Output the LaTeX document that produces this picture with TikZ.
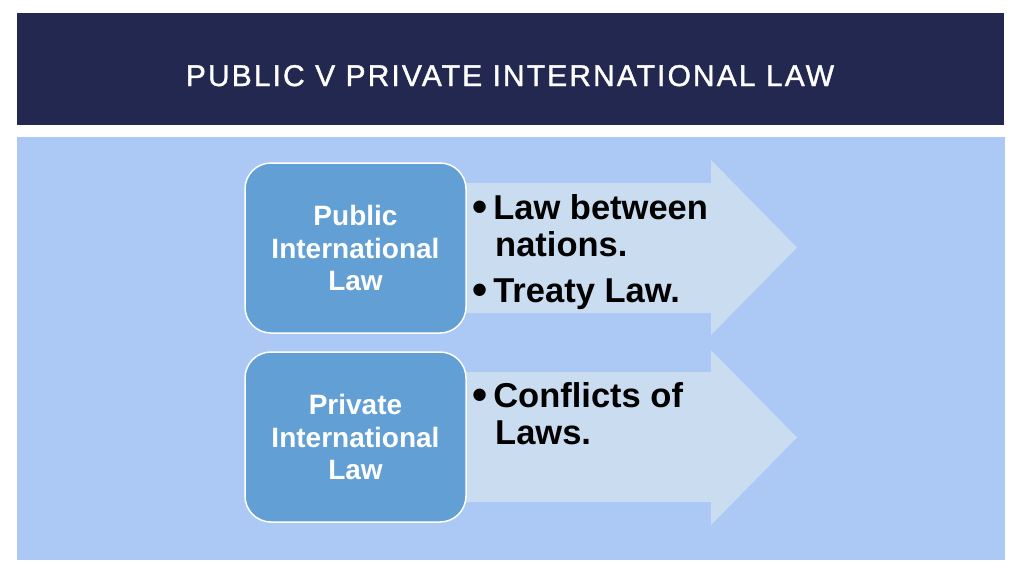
\documentclass[tikz,border=0pt]{standalone}
\usepackage{fontspec}
\setmainfont{Liberation Sans}
\newfontfamily\titlefont[LetterSpace=7,FakeBold=1.2]{Liberation Sans}
\definecolor{navy}{HTML}{232851}
\definecolor{bgblue}{HTML}{ACC9F5}
\definecolor{boxblue}{HTML}{629FD4}
\definecolor{arrowblue}{HTML}{CADCF0}
\newcommand{\bigbul}{\raisebox{-2.5pt}{\scalebox{1.25}{\textbullet}}}
\begin{document}
\begin{tikzpicture}[x=1pt,y=-1pt,
  catbox/.style={draw=white,line width=1.5pt,fill=boxblue,rounded corners=26pt},
  cattext/.style={text=white,font=\fontsize{28}{32.5}\selectfont\bfseries,align=center},
  bigarrow/.style={fill=arrowblue,draw=none},
  bullettext/.style={anchor=base west,font=\fontsize{34.5}{38}\selectfont\bfseries,inner sep=0pt,text=black}]
\useasboundingbox (0,0) rectangle (1024,576);
\fill[white] (0,0) rectangle (1024,576);
% title bar
\fill[navy] (17,13) rectangle (1004,125);
\node[text=white,font=\titlefont\fontsize{30}{34}\selectfont,anchor=base,inner sep=0pt] (title) at (510,86) {PUBLIC V PRIVATE INTERNATIONAL LAW};
% content panel
\fill[bgblue] (17,137) rectangle (1005,560);
% arrows
\fill[bigarrow] (330,183) -- (711,183) -- (711,160) -- (797,247.5) -- (711,335) -- (711,313) -- (330,313) -- cycle;
\fill[bigarrow] (330,372) -- (711,372) -- (711,350) -- (797,437.5) -- (711,525) -- (711,502) -- (330,502) -- cycle;
% boxes
\draw[catbox] (245,163) rectangle (466,333);
\draw[catbox] (245,352) rectangle (466,522);
\node[cattext] (pub) at (355.5,248) {Public\\International\\Law};
\node[cattext] (priv) at (355.5,437) {Private\\International\\Law};
% bullets
\node[bullettext] (b1) at (472,219) {\bigbul\hspace{6pt}Law between};
\node[bullettext] (b1b) at (495,256) {nations.};
\node[bullettext] (b2) at (472,302) {\bigbul\hspace{6pt}Treaty Law.};
\node[bullettext] (b3) at (472,407) {\bigbul\hspace{6pt}Conflicts of};
\node[bullettext] (b3b) at (495,444) {Laws.};
\end{tikzpicture}
\end{document}
